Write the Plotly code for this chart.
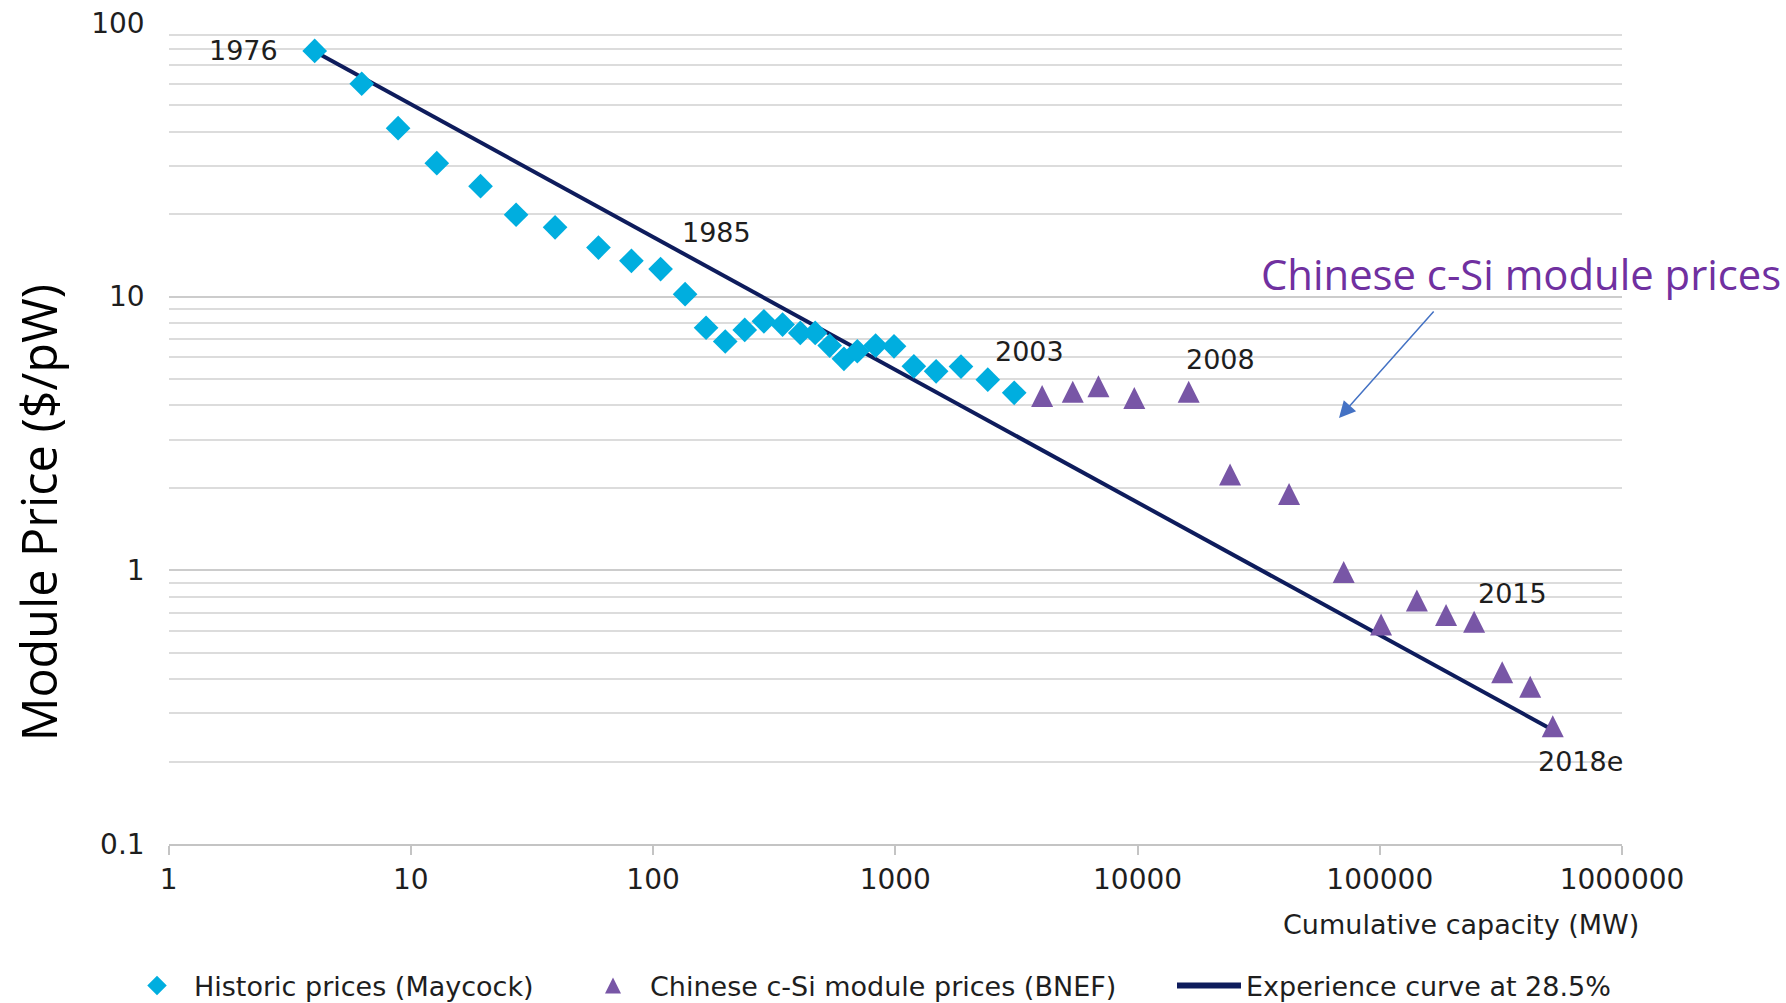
import numpy as np
import plotly.graph_objects as go

# Historic module prices (Maycock), one point per year 1976-2003
hist_capacity_mw = [4.01, 6.27, 8.86, 12.8, 19.4, 27.2, 39.4, 59.5, 81.4, 107.4, 135.6,
                    165.5, 198.6, 239, 286.8, 342.5, 405.3, 467, 536, 613.6, 697, 829.3,
                    987.9, 1193, 1474, 1867, 2409, 3097]
hist_price = [78.9, 59.9, 41.2, 30.7, 25.3, 19.9, 17.9, 15.1, 13.5, 12.6, 10.2,
              7.69, 6.85, 7.55, 8.12, 7.90, 7.36, 7.36, 6.62, 5.92, 6.31, 6.62,
              6.58, 5.56, 5.33, 5.55, 4.97, 4.45]

# Chinese c-Si module prices (BNEF), 2004-2018e
chn_capacity_mw = [4037, 5401, 6895, 9700, 16260, 24100, 42230, 70970, 101250,
                   142330, 187800, 245200, 320200, 417800, 517700]
chn_price = [4.20, 4.35, 4.56, 4.13, 4.35, 2.17, 1.84, 0.955, 0.614,
             0.752, 0.665, 0.629, 0.411, 0.364, 0.261]

# Experience curve at 28.5% (straight line in log-log space)
curve_capacity_mw = [4.01, 517700]
curve_price = [78.5, 0.261]

# Axis ticks
x_tick_vals = [1, 10, 100, 1000, 10000, 100000, 1000000]
x_tick_text = ["1", "10", "100", "1000", "10000", "100000", "1000000"]
y_tick_vals = [0.1, 1, 10, 100]
y_tick_text = ["0.1", "1", "10", "100"]

series_names = ["Historic prices (Maycock)",
                "Chinese c-Si module prices (BNEF)",
                "Experience curve at 28.5%"]

W, H = 1786, 1003
CYAN = "#00AEDF"
PURPLE = "#7856A6"
NAVY = "#0E1C5C"
TXT = "#1E1E1E"
LABEL_FONT = "DejaVu Sans"
TITLE_FONT = "Open Sans"

# plot-area edges in pixels
PL, PR, PT, PB = 168.6, 1622.0, 22.8, 844.0

fig = go.Figure()

fig.add_trace(go.Scatter(
    x=curve_capacity_mw, y=curve_price, mode="lines",
    line=dict(color=NAVY, width=4), showlegend=False, hoverinfo="skip"))

fig.add_trace(go.Scatter(
    x=hist_capacity_mw, y=hist_price, mode="markers", name=series_names[0],
    marker=dict(symbol="diamond", size=19, color=CYAN), showlegend=False))

# tall triangles: an arrow-down glyph turned upright and lifted so its centroid sits on the value
TRI = 22
fig.add_trace(go.Scatter(
    x=chn_capacity_mw, y=chn_price, mode="markers", name=series_names[1],
    marker=dict(symbol="arrow-down", size=TRI, color=PURPLE, angle=180,
                standoff=TRI * 2 / 3), showlegend=False))

# legend entries (legend glyphs apply the standoff in the opposite sense)
fig.add_trace(go.Scatter(
    x=[None], y=[None], mode="markers", name=series_names[0],
    marker=dict(symbol="diamond", size=15, color=CYAN), legendwidth=377))
fig.add_trace(go.Scatter(
    x=[None], y=[None], mode="markers", name=series_names[1],
    marker=dict(symbol="arrow-up", size=16, color=PURPLE, standoff=8),
    legendwidth=517))
fig.add_trace(go.Scatter(
    x=[None], y=[None], mode="lines", name=series_names[2],
    line=dict(color=NAVY, width=6)))

# year labels tied to data points: (text, series x, series y, index, dx, dy)
year_labels = [
    ("1976", hist_capacity_mw, hist_price, 0, -71, 0),
    ("1985", hist_capacity_mw, hist_price, 9, 56, 37),
    ("2003", hist_capacity_mw, hist_price, 27, 15, 41),
    ("2008", chn_capacity_mw, chn_price, 4, 32, 36),
    ("2015", chn_capacity_mw, chn_price, 11, 38, 32),
    ("2018e", chn_capacity_mw, chn_price, 14, 28, -32),
]
annotations = []
for text, xs, ys, i, dx, dy in year_labels:
    annotations.append(dict(
        x=np.log10(xs[i]), y=np.log10(ys[i]), xref="x", yref="y", text=text,
        showarrow=False, xshift=dx, yshift=dy, xanchor="center", yanchor="middle",
        font=dict(family=LABEL_FONT, size=27, color=TXT)))

# axis titles
annotations.append(dict(
    x=1460.5 / W, y=1 - 924 / H, xref="paper", yref="paper",
    text="Cumulative capacity (MW)", showarrow=False, xanchor="center", yanchor="middle",
    font=dict(family=LABEL_FONT, size=27, color=TXT)))
annotations.append(dict(
    x=37.6 / W, y=1 - 512.6 / H, xref="paper", yref="paper",
    text="Module Price ($/pW)", showarrow=False, textangle=-90,
    xanchor="center", yanchor="middle",
    font=dict(family=TITLE_FONT, size=48.5, color="#000000")))

# callout text and arrow
annotations.append(dict(
    x=1259 / W, y=1 - 273 / H, xref="paper", yref="paper",
    text="Chinese c-Si module prices", showarrow=False, xanchor="left", yanchor="middle",
    font=dict(family=TITLE_FONT, size=41.8, color="#7030A0")))
annotations.append(dict(
    x=1339 / W, y=1 - 418 / H, xref="paper", yref="paper", text="",
    showarrow=True, arrowhead=2, arrowsize=2.2, arrowwidth=1.5, arrowcolor="#4472C4",
    ax=96, ay=-108, axref="pixel", ayref="pixel"))

fig.update_layout(
    width=W, height=H,
    margin=dict(l=0, r=0, t=0, b=0, autoexpand=False),
    paper_bgcolor="white", plot_bgcolor="white",
    font=dict(family=LABEL_FONT, color=TXT),
    annotations=annotations,
    showlegend=True,
    legend=dict(orientation="h", x=120 / W, xanchor="left", y=1 - 986 / H,
                yanchor="middle", itemwidth=64, bgcolor="rgba(0,0,0,0)",
                font=dict(family=LABEL_FONT, size=27, color=TXT),
                traceorder="normal"),
    xaxis=dict(
        type="log", range=[0, 6], domain=[PL / W, PR / W],
        showgrid=False, zeroline=False,
        showline=True, linecolor="#C4C4C4", linewidth=2,
        ticks="outside", ticklen=9, tickwidth=2, tickcolor="#C4C4C4",
        tickvals=x_tick_vals, ticktext=x_tick_text, ticklabelstandoff=0,
        tickfont=dict(family=LABEL_FONT, size=28, color=TXT)),
    yaxis=dict(
        type="log", range=[-1, 2], domain=[1 - PB / H, 1 - PT / H],
        showline=False, zeroline=False, ticks="",
        tickvals=y_tick_vals, ticktext=y_tick_text, ticklabelstandoff=23,
        showgrid=True, gridcolor="#CCCCCC", gridwidth=1.6,
        minor=dict(dtick="D1", showgrid=True, gridcolor="#DCDCDC", gridwidth=1.6, ticks=""),
        tickfont=dict(family=LABEL_FONT, size=28, color=TXT)),
)

fig.write_html("out.html")
